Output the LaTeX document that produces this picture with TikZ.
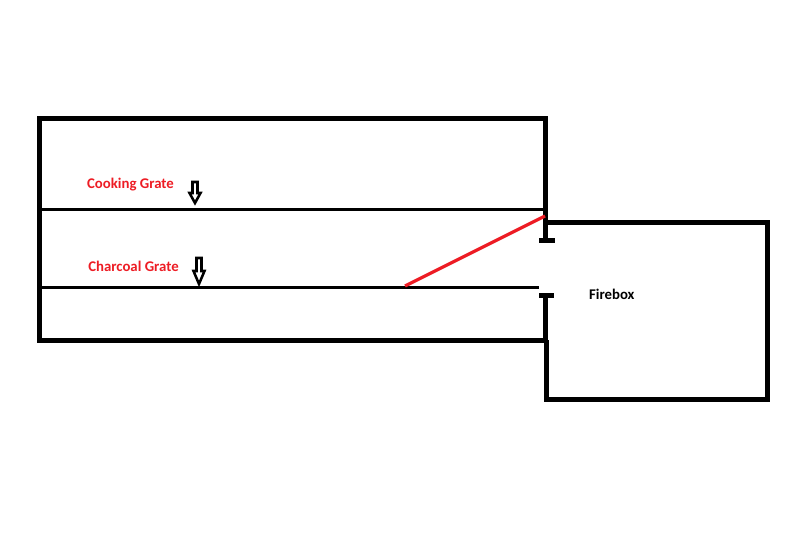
\documentclass[tikz,border=0pt]{standalone}
\usepackage{fontspec}
\setmainfont{Carlito}
\definecolor{redink}{HTML}{ED1C24}
\tikzset{
  wall/.style={draw=black,line width=3.75pt,line cap=butt,line join=miter},
  grate/.style={draw=black,line width=2.25pt},
  hollow/.style={draw=black,line width=1.9pt,fill=white,line join=miter},
  redlabel/.style={text=redink,font=\fontsize{11.1pt}{13pt}\selectfont\bfseries,inner sep=0pt},
  blacklabel/.style={text=black,font=\fontsize{11.1pt}{13pt}\selectfont\bfseries,inner sep=0pt}
}
\begin{document}
\begin{tikzpicture}[x=0.75pt,y=-0.75pt]
\useasboundingbox (0,0) rectangle (800,551);
% main chamber
\draw[wall] (545.5,240) -- (545.5,118.5) -- (39.5,118.5) -- (39.5,340.3) -- (545.5,340.3);
\draw[wall] (545.5,296) -- (545.5,341);
% firebox
\draw[wall] (546,222) -- (767.5,222) -- (767.5,399.5) -- (546.5,399.5) -- (546.5,340);
% opening caps
\draw[wall] (539,240.5) -- (555,240.5);
\draw[wall] (539,295.5) -- (554,295.5);
% grates
\draw[grate] (39.5,209.5) -- (545,209.5);
\draw[grate] (39.5,287.5) -- (539,287.5);
% baffle
\draw[draw=redink,line width=2.4pt] (405,286) -- (545,216);
% down arrows
\draw[hollow] (192.5,182) -- (197.5,182) -- (197.5,193) -- (200.5,193) -- (195,203) -- (189.5,193) -- (192.5,193) -- cycle;
\draw[hollow] (196.5,258) -- (201.5,258) -- (201.5,271) -- (204.5,271) -- (199,284) -- (193.5,271) -- (196.5,271) -- cycle;
% labels
\node[redlabel,anchor=center] (cook) at (130.5,184.8) {Cooking Grate};
\node[redlabel,anchor=center] (char) at (133.5,266.3) {Charcoal Grate};
\node[blacklabel,anchor=center] (fire) at (611.8,294.2) {Firebox};
\end{tikzpicture}
\end{document}
